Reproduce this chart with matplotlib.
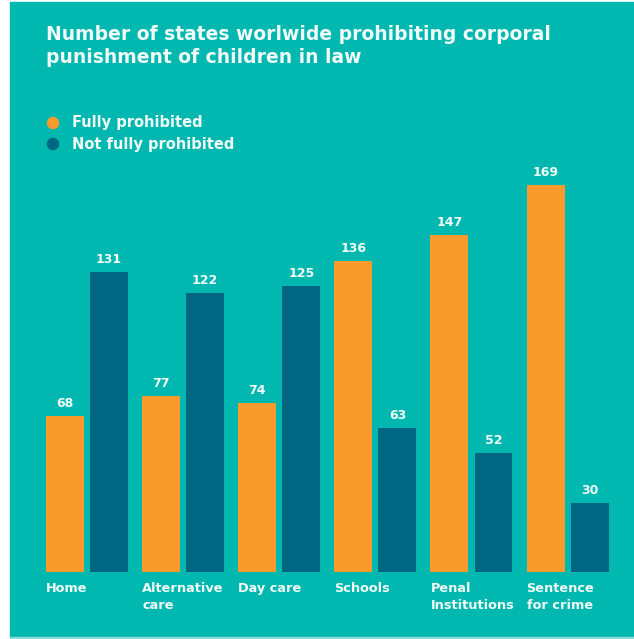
import matplotlib.pyplot as plt
import numpy as np
from matplotlib.patches import Rectangle, Circle

plt.rcParams['font.family'] = ['DejaVu Sans']

# data
categories = ['Home', 'Alternative\ncare', 'Day care', 'Schools',
              'Penal\nInstitutions', 'Sentence\nfor crime']
fully = [68, 77, 74, 136, 147, 169]
not_fully = [131, 122, 125, 63, 52, 30]

teal = '#00B8AF'
orange = '#F89B2C'
navy = '#006682'
txt = '#F2FBFA'

fig = plt.figure(figsize=(6.34, 6.39), dpi=100, facecolor='white')

# teal card behind everything, with a thin light strip at the bottom
fig.patches.append(Rectangle((10 / 634, 2 / 639), 624 / 634, 635 / 639,
                             transform=fig.transFigure, color=teal, zorder=-10))
fig.patches.append(Rectangle((10 / 634, 0), 624 / 634, 2 / 639,
                             transform=fig.transFigure, color='#8FDCDA', zorder=-10))

ax = fig.add_axes([29.3 / 634, 67 / 639, 596 / 634, 422 / 639])
ax.set_facecolor('none')
ax.set_zorder(5)

x = np.arange(len(categories))
w = 0.395
off = 0.229
b1 = ax.bar(x - off, fully, w, color=orange)
b2 = ax.bar(x + off, not_fully, w, color=navy)

for bars, vals in ((b1, fully), (b2, not_fully)):
    for b, v in zip(bars, vals):
        ax.text(b.get_x() + b.get_width() / 2, v + 2.6, str(v),
                ha='center', va='bottom', color=txt, fontsize=9, fontweight='bold')

for i, lab in enumerate(categories):
    ax.text(x[i] - off - w / 2, -4.5, lab, ha='left', va='top', color=txt,
            fontsize=9.3, fontweight='bold', linespacing=1.35)

ax.set_xlim(-0.6, 5.6)
ax.set_ylim(0, 184.3)
ax.axis('off')

# title
fig.text(46 / 634, 1 - 46 / 639,
         'Number of states worlwide prohibiting corporal\npunishment of children in law',
         ha='left', va='center', color=txt, fontsize=13.5, fontweight='bold',
         linespacing=1.3)

# legend
for yy, col, lab in ((123, orange, 'Fully prohibited'), (144, navy, 'Not fully prohibited')):
    fig.patches.append(Circle((53 / 634, 1 - yy / 639), 5.5 / 634,
                              transform=fig.transFigure, color=col))
    fig.text(72 / 634, 1 - yy / 639, lab, ha='left', va='center', color=txt,
             fontsize=10.5, fontweight='bold')

fig.savefig('out.png', dpi=100, facecolor='white')
